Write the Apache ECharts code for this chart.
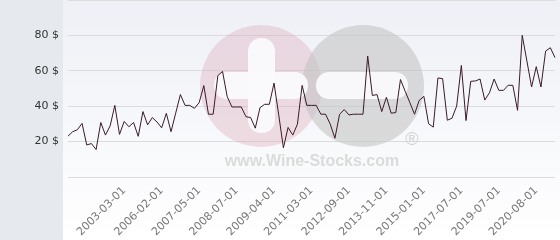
<!DOCTYPE html>
<html><head><meta charset="utf-8">
<script src="https://cdn.jsdelivr.net/npm/echarts@6/dist/echarts.min.js"></script>
<style>html,body{margin:0;padding:0;background:#fff}#c{width:560px;height:240px}</style>
</head><body><div id="c"></div>
<script>
const categories = [
'2001-06-01','2001-09-01','2001-11-01','2002-01-01','2002-03-01','2002-05-01','2002-06-01','2002-08-01','2002-09-01','2002-10-01',
'2002-12-01','2003-01-01','2003-03-01','2003-07-01','2003-11-01','2004-03-01','2004-07-01','2004-11-01','2005-04-01','2005-09-01',
'2006-02-01','2006-04-01','2006-06-01','2006-08-01','2006-10-01','2006-12-01','2007-01-01','2007-03-01','2007-05-01','2007-07-01',
'2007-08-01','2007-10-01','2007-12-01','2008-01-01','2008-03-01','2008-05-01','2008-07-01','2008-08-01','2008-09-01','2008-10-01',
'2008-11-01','2008-12-01','2009-01-01','2009-03-01','2009-04-01','2009-07-01','2009-09-01','2009-12-01','2010-03-01','2010-06-01',
'2010-09-01','2010-12-01','2011-03-01','2011-06-01','2011-09-01','2011-11-01','2012-01-01','2012-03-01','2012-05-01','2012-07-01',
'2012-09-01','2012-10-01','2012-12-01','2013-02-01','2013-04-01','2013-05-01','2013-07-01','2013-09-01','2013-11-01','2014-01-01',
'2014-02-01','2014-04-01','2014-06-01','2014-07-01','2014-09-01','2014-11-01','2015-01-01','2015-05-01','2015-09-01','2016-01-01',
'2016-05-01','2016-09-01','2016-12-01','2017-03-01','2017-07-01','2017-10-01','2018-01-01','2018-04-01','2018-07-01','2018-10-01',
'2019-01-01','2019-04-01','2019-07-01','2019-09-01','2019-10-01','2019-12-01','2020-01-01','2020-03-01','2020-04-01','2020-06-01',
'2020-08-01','2020-10-01','2020-12-01','2021-02-01','2021-04-01'
];
const prices = [
23,25.5,26.6,30.2,18,18.8,15.4,30.7,23.6,28.8,
40.4,24,31.3,28.3,30.7,22.9,36.9,29.4,33.5,31,
27.7,35.9,25.5,36,46.5,40.4,40.4,38.7,41.9,51.6,
35.4,35.4,57.2,59.6,45.3,39.5,39.5,39.5,34,33.5,
27.5,39.1,41,41,53,35,16.4,27.9,23.6,29.8,
51.7,40.4,40.4,40.4,35.4,35.4,29.8,21.8,35.4,38,
35,35.4,35.4,35.4,68.3,46,46.5,36.9,45,36,
36.3,55,48.4,42,35.4,43.2,45.5,30,28.1,55.9,
55.5,32,33.1,40,63,31.8,54,54.2,55.3,43.4,
47.5,55.3,48.9,48.9,51.8,51.7,37.6,80,65.5,50.8,
62.3,50.8,71.1,73,67.4
];
const yTicks = [0, 20, 40, 60, 80, 100];
const labelStart = 12, labelStep = 8;

const chart = echarts.init(document.getElementById('c'), null, {renderer: 'canvas'});
chart.setOption({
  animation: false,
  backgroundColor: new echarts.graphic.LinearGradient(0, 0, 0, 1, [
    {offset: 0, color: '#eef0f6'}, {offset: 1, color: '#ffffff'}
  ]),
  graphic: [
    {type: 'rect', shape: {x: 0, y: 0, width: 63, height: 240}, style: {fill: '#e6eaee'}, z: -10},
    {type: 'circle', shape: {cx: 261, cy: 86, r: 61}, style: {fill: 'rgba(222,170,186,0.38)'}, z: 1},
    {type: 'circle', shape: {cx: 363, cy: 86, r: 61}, style: {fill: 'rgba(195,195,195,0.58)'}, z: 1},
    {type: 'rect', shape: {x: 248, y: 38, width: 27, height: 95, r: 13}, style: {fill: 'rgba(250,250,252,0.95)'}, z: 1},
    {type: 'rect', shape: {x: 214, y: 72, width: 94, height: 27, r: 13}, style: {fill: 'rgba(250,250,252,0.95)'}, z: 1},
    {type: 'rect', shape: {x: 316, y: 72, width: 92, height: 27, r: 13}, style: {fill: 'rgba(250,250,252,0.95)'}, z: 1},
    {type: 'text', x: 312, y: 162, style: {text: 'www.Wine-Stocks.com', font: 'bold 16px "Liberation Sans", Arial, sans-serif', fill: 'rgba(205,205,205,0.7)', align: 'center', verticalAlign: 'middle'}, z: 1},
    {type: 'text', x: 412, y: 140, style: {text: '®', font: '18px "Liberation Sans", Arial, sans-serif', fill: 'rgba(200,200,200,0.8)', align: 'center', verticalAlign: 'middle'}, z: 1}
  ],
  grid: {left: 68, right: 5, top: -1, bottom: 62},
  xAxis: {
    type: 'category',
    data: categories,
    boundaryGap: false,
    axisLine: {show: false},
    axisTick: {show: false},
    splitLine: {show: false},
    axisLabel: {
      rotate: 45,
      margin: 12,
      color: '#777',
      fontSize: 11,
      fontFamily: 'DejaVu Sans',
      interval: (i) => i >= labelStart && (i - labelStart) % labelStep === 0
    }
  },
  yAxis: {
    type: 'value',
    min: yTicks[0],
    max: yTicks[yTicks.length - 1],
    interval: 20,
    axisLine: {show: false},
    axisTick: {show: false},
    splitLine: {lineStyle: {color: '#dcdcdc', width: 1}},
    axisLabel: {
      margin: 9,
      color: '#333',
      fontSize: 11,
      fontFamily: 'DejaVu Sans',
      formatter: (v) => (v === 0 || v === 100) ? '' : v + ' $'
    }
  },
  series: [{
    type: 'line',
    data: prices,
    symbol: 'none',
    z: 5,
    lineStyle: {color: '#3a1a2a', width: 1}
  }]
});
</script></body></html>
